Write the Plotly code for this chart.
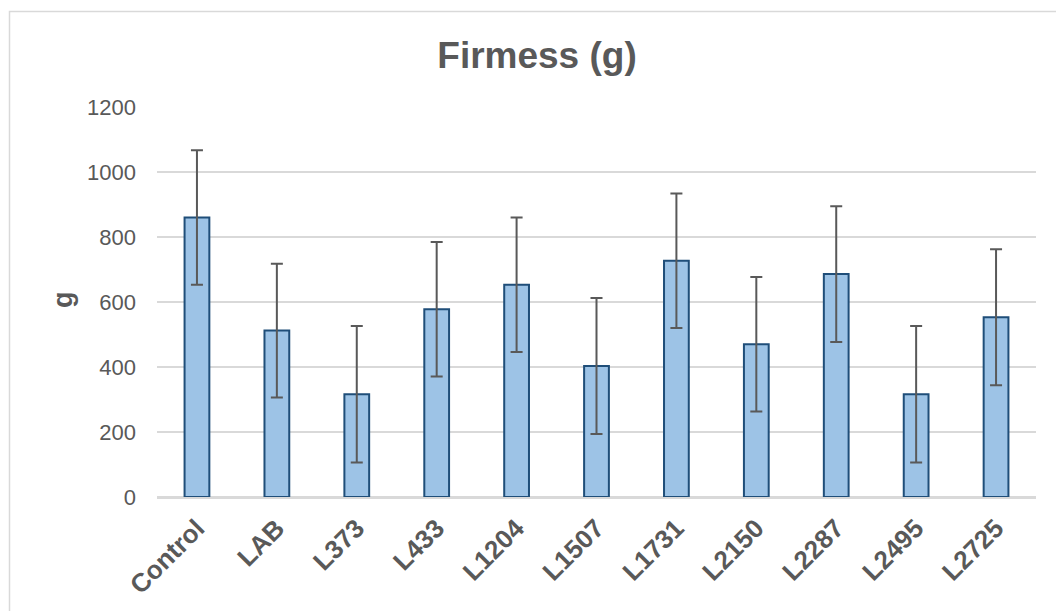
import plotly.graph_objects as go

# Firmness by treatment
categories = ["Control", "LAB", "L373", "L433", "L1204", "L1507",
              "L1731", "L2150", "L2287", "L2495", "L2725"]
firmness = [860, 512, 316, 578, 653, 403, 727, 470, 686, 316, 553]
firmness_sd = [207, 206, 210, 207, 207, 209, 207, 207, 209, 210, 209]

W, H = 1056, 611
L, R, T, B = 157, 20, 107, 114
pw, ph = W - L - R, H - T - B

TEXT = "#595959"
FONT = "Liberation Sans, Arial, sans-serif"

fig = go.Figure(
    go.Bar(
        x=categories,
        y=firmness,
        marker=dict(color="#9DC3E6", line=dict(color="#1F4E79", width=2)),
        error_y=dict(type="data", array=firmness_sd, visible=True,
                     color="#595959", thickness=2, width=6),
        width=0.31,
    )
)

fig.update_layout(
    width=W, height=H,
    margin=dict(l=L, r=R, t=T, b=B),
    paper_bgcolor="white", plot_bgcolor="white",
    showlegend=False,
    font=dict(family=FONT, color=TEXT),
    title=dict(text="<b>Firmess (g)</b>", x=537 / W, xref="container",
               xanchor="center", y=1 - 55 / H, yref="container",
               yanchor="middle", font=dict(size=37, color=TEXT, family=FONT)),
)

fig.update_yaxes(
    range=[0, 1200], tick0=0, dtick=200,
    showgrid=True, gridcolor="#D9D9D9", gridwidth=1.5,
    zeroline=True, zerolinecolor="#D9D9D9", zerolinewidth=1.5,
    showline=False,
    ticks="", ticklabelstandoff=20,
    tickfont=dict(size=22, color=TEXT, family=FONT),
)

fig.update_xaxes(
    tickangle=-45,
    showline=True, linecolor="#D9D9D9", linewidth=1.5,
    ticks="", ticklabelstandoff=4,
    tickprefix="<b>", ticksuffix="</b>",
    tickfont=dict(size=26, color=TEXT, family=FONT),
)

# y-axis title
fig.add_annotation(
    text="<b>g</b>", xref="paper", yref="paper",
    x=(63 - L) / pw, y=(497 - 300) / ph, xanchor="center", yanchor="middle",
    textangle=-90, showarrow=False,
    font=dict(size=27, color=TEXT, family=FONT),
)

# chart-area border
fig.add_shape(
    type="rect", xref="paper", yref="paper",
    x0=(9.5 - L) / pw, x1=(W + 10 - L) / pw,
    y0=(T + ph - (H + 10)) / ph, y1=(T + ph - 11.5) / ph,
    line=dict(color="#D9D9D9", width=1.5), fillcolor="rgba(0,0,0,0)",
    layer="below",
)

fig.write_html("out.html")
